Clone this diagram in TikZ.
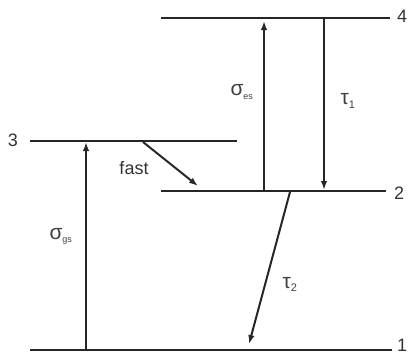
\documentclass[tikz,border=0pt]{standalone}
\usepackage{fontspec}
\setmainfont{Liberation Sans}
\usetikzlibrary{arrows.meta}
\begin{document}
\begin{tikzpicture}[x=1pt,y=-1pt,
  level/.style={line width=2pt, draw=black!85},
  trans/.style={line width=2pt, draw=black!85, -{Latex[length=9pt,width=6.5pt]}},
  lbl/.style={font=\fontsize{18}{20}\selectfont, text=black!80, inner sep=0pt},
  glbl/.style={font=\fontsize{21}{22}\selectfont, text=black!75, inner sep=0pt}]
\useasboundingbox (0,0) rectangle (409,354);
% levels
\coordinate (l4a) at (161,18);  \coordinate (l4b) at (390,18);
\coordinate (l3a) at (30,141);  \coordinate (l3b) at (237,141);
\coordinate (l2a) at (161,191); \coordinate (l2b) at (386,191);
\coordinate (l1a) at (30,350);  \coordinate (l1b) at (392,350);
\draw[level] (l4a) -- (l4b);
\draw[level] (l3a) -- (l3b);
\draw[level] (l2a) -- (l2b);
\draw[level] (l1a) -- (l1b);
\node[lbl] (n4) at (402,16) {4};
\node[lbl] (n3) at (13,140) {3};
\node[lbl] (n2) at (399,193) {2};
\node[lbl] (n1) at (402,345) {1};
% transitions
\coordinate (gsA) at (86,349); \coordinate (gsB) at (86,142);
\draw[trans] (gsA) -- (gsB);
\coordinate (esA) at (264,191); \coordinate (esB) at (264,21);
\draw[trans] (esA) -- (esB);
\coordinate (t1A) at (324,19); \coordinate (t1B) at (324,190);
\draw[trans] (t1A) -- (t1B);
\coordinate (fA) at (143,142); \coordinate (fB) at (198,186);
\draw[trans] (fA) -- (fB);
\coordinate (t2A) at (290,192); \coordinate (t2B) at (249,344);
\draw[trans] (t2A) -- (t2B);
% labels
\node[lbl, anchor=center] (fast) at (134,168) {fast};
\node[glbl] (sgs) at (61,236) {σ\textsubscript{\fontsize{9}{10}\selectfont gs}};
\node[glbl] (ses) at (242,92) {σ\textsubscript{\fontsize{9}{10}\selectfont es}};
\node[glbl] (tau1) at (348,101) {τ\textsubscript{\fontsize{11}{12}\selectfont 1}};
\node[glbl] (tau2) at (290,284) {τ\textsubscript{\fontsize{11}{12}\selectfont 2}};
\end{tikzpicture}
\end{document}
